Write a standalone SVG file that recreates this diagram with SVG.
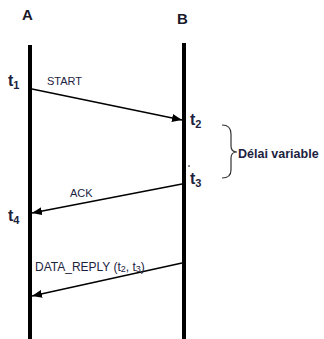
<svg xmlns="http://www.w3.org/2000/svg" width="324" height="339" viewBox="0 0 324 339">
<style>
.life{stroke:#000;stroke-width:4;fill:none}
.msg{stroke:#000;stroke-width:1.5;fill:none;marker-end:url(#ah)}
.hdr{font-family:"Liberation Sans",Arial,sans-serif;font-weight:bold;font-size:15px;fill:#1a1a2a}
.t{font-family:"Liberation Sans",Arial,sans-serif;font-weight:bold;font-size:16px;fill:#1c2340}
.sub{font-size:11px}
.lbl{font-family:"Liberation Sans",Arial,sans-serif;font-size:11px;fill:#1c2340}
.lbl2{font-family:"Liberation Sans",Arial,sans-serif;font-size:12px;fill:#1c2340}
.note{font-family:"Liberation Sans",Arial,sans-serif;font-weight:bold;font-size:12.5px;fill:#1c2340}
</style>
<defs>
<marker id="ah" viewBox="0 0 10 8" refX="10" refY="4" markerWidth="10" markerHeight="8" markerUnits="userSpaceOnUse" orient="auto">
<path d="M0,0 L10,4 L0,8 Z" fill="#000"/>
</marker>
</defs>
<rect width="324" height="339" fill="#fff"/>
<g id="nodeA">
<text class="hdr" x="22" y="20">A</text>
<line class="life" x1="30" y1="45" x2="30" y2="339"/>
</g>
<g id="nodeB">
<text class="hdr" x="177" y="24">B</text>
<line class="life" x1="184" y1="43" x2="184" y2="339"/>
</g>
<g id="times">
<text class="t" x="8" y="86">t<tspan class="sub" dy="3">1</tspan></text>
<text class="t" x="190" y="125">t<tspan class="sub" dy="3">2</tspan></text>
<text class="t" x="190" y="184">t<tspan class="sub" dy="3">3</tspan></text>
<text class="t" x="8" y="221">t<tspan class="sub" dy="3">4</tspan></text>
<circle cx="189" cy="166" r="0.8" fill="#000"/>
</g>
<g id="connectors">
<line class="msg" x1="32" y1="89" x2="182" y2="120"/>
<text class="lbl" x="47" y="85">START</text>
<line class="msg" x1="182" y1="184" x2="32" y2="213"/>
<text class="lbl" x="70" y="197">ACK</text>
<line class="msg" x1="182" y1="263" x2="32" y2="296"/>
<text class="lbl2" x="35" y="271">DATA_REPLY (t<tspan font-size="9" dy="1">2</tspan><tspan dy="-1">, t</tspan><tspan font-size="9" dy="1">3</tspan><tspan dy="-1">)</tspan></text>
</g>
<g id="delay">
<path d="M222,125 Q231,125 231,134 L231,146 Q231,152 237,152 Q231,152 231,158 L231,170 Q231,178 222,178" fill="none" stroke="#333" stroke-width="1.2"/>
<text class="note" x="238" y="158">Délai variable</text>
</g>
</svg>
